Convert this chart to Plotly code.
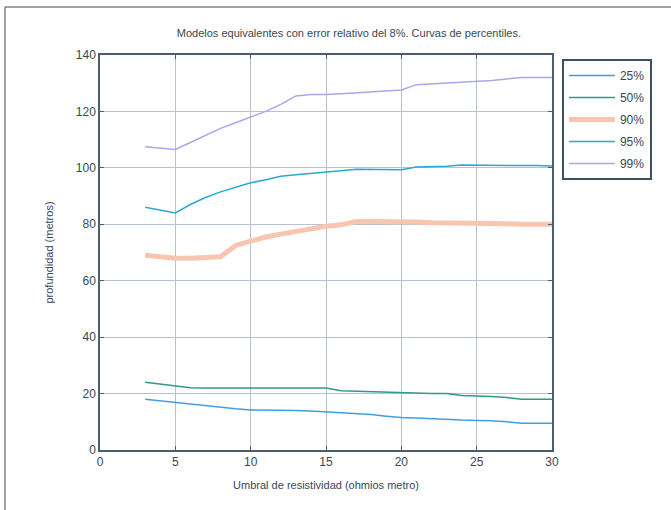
import plotly.graph_objects as go

umbral = list(range(3, 31))

p25 = [18.0, 17.4, 16.8, 16.2, 15.6, 15.1, 14.6, 14.2, 14.2, 14.1, 14.0, 13.8, 13.5, 13.2,
       13.0, 12.6, 12.0, 11.5, 11.3, 11.0, 10.7, 10.6, 10.5, 10.4, 10.0, 9.5, 9.5, 9.5]
p50 = [24.0, 23.4, 22.8, 22.1, 22.0, 22.0, 22.0, 22.0, 22.0, 22.0, 22.0, 22.0, 22.0, 21.0,
       20.8, 20.7, 20.6, 20.4, 20.1, 20.0, 20.0, 19.3, 19.1, 19.0, 18.6, 18.0, 18.0, 18.0]
p90 = [69.0, 68.5, 68.0, 68.0, 68.2, 68.5, 72.5, 74.0, 75.5, 76.5, 77.5, 78.5, 79.3, 79.8,
       81.0, 81.0, 81.0, 81.0, 80.8, 80.5, 80.5, 80.3, 80.3, 80.3, 80.2, 80.0, 80.0, 80.0]
p95 = [86.0, 85.0, 84.0, 87.0, 89.5, 91.5, 93.2, 94.7, 95.8, 97.0, 97.6, 98.0, 98.6, 99.0,
       99.5, 99.5, 99.4, 99.3, 100.3, 100.4, 100.6, 101.0, 101.0, 101.0, 101.0, 101.0, 100.8, 100.7]
p99 = [107.5, 107.0, 106.5, 109.0, 111.5, 114.0, 116.0, 118.0, 120.0, 122.5, 125.5, 126.0, 126.0, 126.3,
       126.6, 127.0, 127.3, 127.6, 129.5, 129.8, 130.0, 130.3, 130.6, 131.0, 131.5, 132.0, 132.0, 132.0]

series_names = ["25%", "50%", "90%", "95%", "99%"]
series_vals = [p25, p50, p90, p95, p99]
colors = ["#3f9fe3", "#2f9a86", "#f8c6b0", "#27a9d6", "#aaa6e8"]
widths = [1.5, 1.5, 5, 1.5, 1.5]

x_ticks = [0, 5, 10, 15, 20, 25, 30]
y_ticks = [0, 20, 40, 60, 80, 100, 120, 140]

fig = go.Figure()
for name, vals, c, w in zip(series_names, series_vals, colors, widths):
    fig.add_trace(go.Scatter(x=umbral, y=vals, mode="lines", name=name, legendgroup=name,
                             line=dict(color=c, width=w)))

font = dict(family="Liberation Sans, Arial, sans-serif", size=11, color="#3a4654")

axis_common = dict(showline=True, linecolor="#4d5d6e", linewidth=1.5, mirror="ticks",
                   ticks="inside", ticklen=4, tickcolor="#4d5d6e",
                   showgrid=True, gridcolor="#b3c3d3", gridwidth=1, zeroline=False,
                   tickfont=dict(family="Liberation Sans, Arial, sans-serif", size=12, color="#3a4654"))

fig.update_layout(
    width=671, height=510,
    margin=dict(l=100, r=119, t=55, b=60),
    paper_bgcolor="white", plot_bgcolor="white",
    font=font,
    title=dict(text="Modelos equivalentes con error relativo del 8%. Curvas de percentiles.",
               x=0.52, xanchor="center", y=0.935, yanchor="middle",
               font=dict(family="Liberation Sans, Arial, sans-serif", size=11, color="#3a4654")),
    xaxis=dict(range=[0, 30], tickvals=x_ticks, ticktext=[str(v) for v in x_ticks],
               title=dict(text="Umbral de resistividad (ohmios metro)", standoff=13,
                          font=dict(size=11, color="#3a4654")),
               **axis_common),
    yaxis=dict(range=[0, 140], tickvals=y_ticks, ticktext=[str(v) for v in y_ticks],
               title=dict(text="profundidad (metros)", standoff=20,
                          font=dict(size=11, color="#3a4654")),
               **axis_common),
    legend=dict(x=1.022, y=0.99, xanchor="left", yanchor="top",
                bordercolor="#3f4f60", borderwidth=2, bgcolor="white",
                font=dict(family="Liberation Sans, Arial, sans-serif", size=12, color="#3a4654"),
                itemwidth=46, tracegroupgap=3),
    showlegend=True,
)

# outer frame of the figure (paper coordinates relative to plot area)
pw, ph = 671 - 100 - 119, 510 - 55 - 60
fig.add_shape(type="rect", xref="paper", yref="paper",
              x0=(5 - 100) / pw, x1=(676 - 100) / pw,
              y0=(450 - 515) / ph, y1=(450 - 7) / ph,
              line=dict(color="#444444", width=1), fillcolor="rgba(0,0,0,0)", layer="below")

fig.write_html("out.html", config={"displayModeBar": False},
               post_script="document.body.style.margin='0';document.body.style.overflow='hidden';")
